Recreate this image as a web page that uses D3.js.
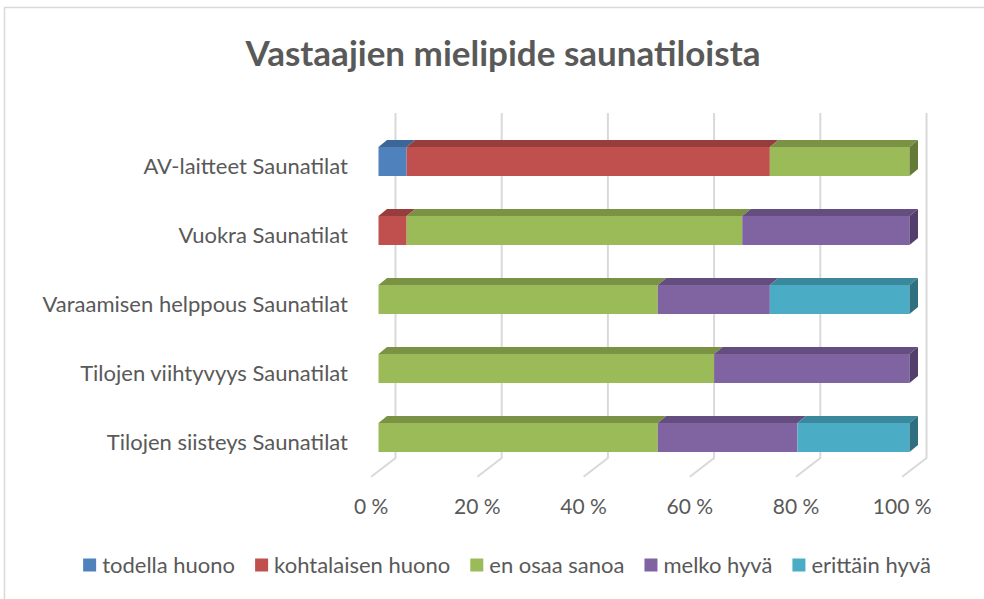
<!DOCTYPE html>
<html>
<head>
<meta charset="utf-8">
<script src="https://cdn.jsdelivr.net/npm/d3@7"></script>
<style>
  html, body { margin: 0; padding: 0; background: #fff; }
  svg { display: block; font-family: Lato, "Open Sans", sans-serif; }
</style>
</head>
<body>
<div id="chart"></div>
<script>
const width = 984;
const height = 599;

const categories = [
  "AV-laitteet Saunatilat",
  "Vuokra Saunatilat",
  "Varaamisen helppous Saunatilat",
  "Tilojen viihtyvyys Saunatilat",
  "Tilojen siisteys Saunatilat"
];

const seriesNames = ["todella huono", "kohtalaisen huono", "en osaa sanoa", "melko hyvä", "erittäin hyvä"];

// percent of answers, one array per series, in category order
const todellaHuono = [5.3, 0, 0, 0, 0];
const kohtalaisenHuono = [68.4, 5.3, 0, 0, 0];
const enOsaaSanoa = [26.3, 63.2, 52.6, 63.2, 52.6];
const melkoHyva = [0, 31.5, 21.1, 36.8, 26.3];
const erittainHyva = [0, 0, 26.3, 0, 21.1];

const tickValues = [0, 20, 40, 60, 80, 100];

const colors = ["#4F81BD", "#C0504D", "#9BBB59", "#8064A2", "#4BACC6"];
const topColors = ["#3C6696", "#973E3C", "#7A9244", "#644E80", "#3A889C"];
const sideColors = ["#325580", "#7E3331", "#667A38", "#533F6B", "#2F6F80"];

const series = [todellaHuono, kohtalaisenHuono, enOsaaSanoa, melkoHyva, erittainHyva];

const svg = d3.select("#chart").append("svg")
  .attr("width", width)
  .attr("height", height);

// chart border
svg.append("rect")
  .attr("x", 4.5).attr("y", 7.5)
  .attr("width", width + 10).attr("height", height + 10)
  .attr("fill", "none")
  .attr("stroke", "#d9d9d9")
  .attr("stroke-width", 1.5);

svg.append("text")
  .attr("x", 503).attr("y", 66)
  .attr("text-anchor", "middle")
  .attr("font-size", 35)
  .attr("font-weight", "bold")
  .attr("fill", "#595959")
  .text("Vastaajien mielipide saunatiloista");

const x = d3.scaleLinear().domain([0, 100]).range([378.5, 909.5]);
const y = d3.scaleBand().domain(categories).range([127, 472])
  .paddingInner(0.58).paddingOuter(0.29);

const barDepth = [8.5, -7];
const wallDepth = [17, -14];
const floorFront = [-7.3, 4.7];
const wallTop = 113;
const wallBottom = y.range()[1] + wallDepth[1];

// back wall gridlines and floor
const grid = svg.append("g").attr("stroke", "#d9d9d9").attr("stroke-width", 2).attr("fill", "none");
grid.selectAll("path")
  .data(tickValues)
  .join("path")
  .attr("d", d => {
    const xw = x(d) + wallDepth[0];
    return `M${xw},${wallTop}L${xw},${wallBottom}L${x(d) + floorFront[0]},${wallBottom + 18.7}`;
  });

svg.append("g")
  .selectAll("text")
  .data(tickValues)
  .join("text")
  .attr("x", d => x(d) + floorFront[0])
  .attr("y", 514)
  .attr("text-anchor", "middle")
  .attr("font-size", 21)
  .attr("fill", "#595959")
  .text(d => d + " %");

// category labels
svg.append("g")
  .selectAll("text")
  .data(categories)
  .join("text")
  .attr("x", 348)
  .attr("y", d => y(d) + 27)
  .attr("text-anchor", "end")
  .attr("font-size", 22)
  .attr("fill", "#595959")
  .text(d => d);

// stacked 3D bars
const rows = categories.map((c, i) => {
  const row = { category: c };
  seriesNames.forEach((s, j) => { row[s] = series[j][i]; });
  return row;
});
const stacked = d3.stack().keys(seriesNames)(rows);

const [dx, dy] = barDepth;
const bars = svg.append("g");
categories.forEach((c, i) => {
  const g = bars.append("g");
  const y0 = y(c);
  const h = y.bandwidth();
  const segs = stacked.map((s, j) => ({ j, x0: s[i][0], x1: s[i][1] })).filter(s => s.x1 - s.x0 > 0);
  segs.forEach(s => {
    const a = x(s.x0), b = x(s.x1);
    g.append("path")
      .attr("fill", topColors[s.j])
      .attr("d", `M${a},${y0}L${a + dx},${y0 + dy}L${b + dx},${y0 + dy}L${b},${y0}Z`);
    g.append("rect")
      .attr("x", a).attr("y", y0)
      .attr("width", b - a).attr("height", h)
      .attr("fill", colors[s.j]);
  });
  const last = segs[segs.length - 1];
  const b = x(last.x1);
  g.append("path")
    .attr("fill", sideColors[last.j])
    .attr("d", `M${b},${y0}L${b + dx},${y0 + dy}L${b + dx},${y0 + h + dy}L${b},${y0 + h}Z`);
});

// legend
const legend = svg.append("g").attr("font-size", 22).attr("fill", "#595959");
const items = legend.selectAll("g").data(seriesNames).join("g");
items.append("rect").attr("width", 13).attr("height", 13).attr("y", -6.5)
  .attr("fill", (d, i) => colors[i]);
items.append("text").attr("x", 19).attr("y", 8).text(d => d);
let offset = 0;
items.each(function () {
  const w = this.querySelector("text").getComputedTextLength() + 19;
  d3.select(this).attr("data-x", offset);
  offset += w + 20;
});
const totalW = offset - 20;
const startX = 507 - totalW / 2;
items.attr("transform", function () {
  return `translate(${startX + (+this.getAttribute("data-x"))},565)`;
});
</script>
</body>
</html>
